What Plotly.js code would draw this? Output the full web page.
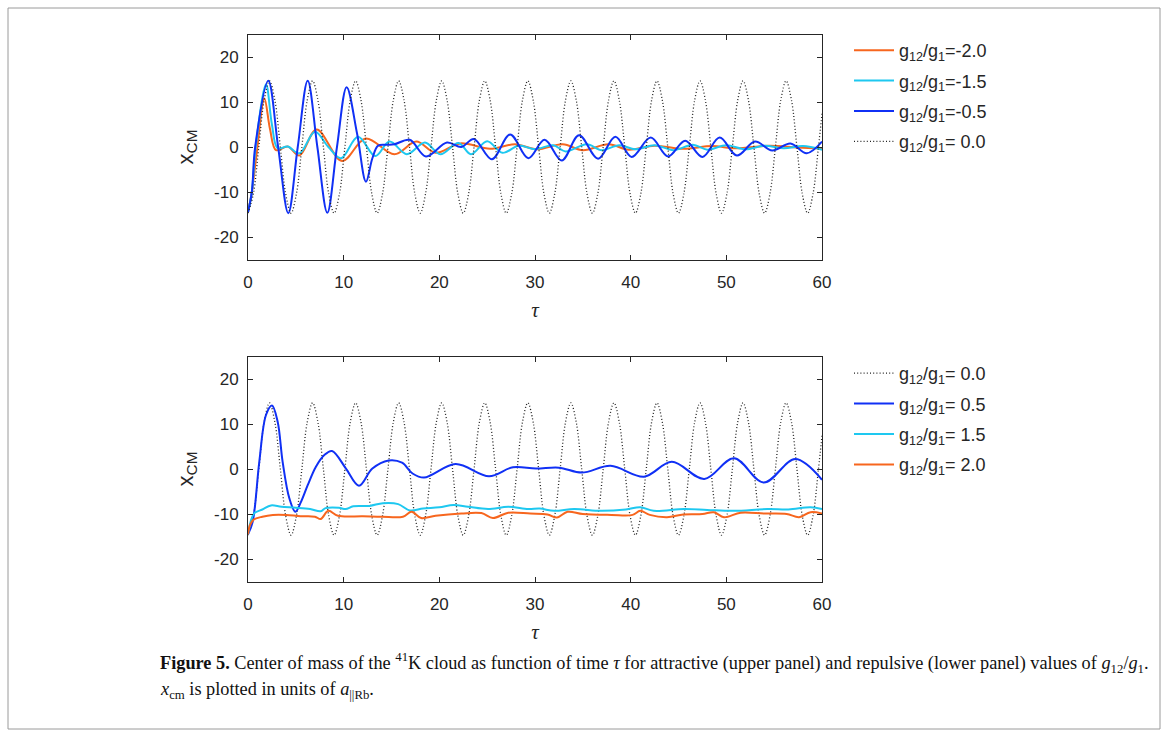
<!DOCTYPE html>
<html>
<head>
<meta charset="utf-8">
<script src="https://cdn.plot.ly/plotly-3.0.1.min.js"></script>
<style>html,body{margin:0;padding:0;background:#fff;}#chart{width:1168px;height:737px;}</style>
</head>
<body>
<div id="chart"></div>
<script>
// ---- g12/g1 = 0.0 (reference, no interaction), shown in both panels ----
const dotT = [0,0.56,1.13,1.69,2.25,2.81,3.38,3.94,
  4.5,5.06,5.63,6.19,6.75,7.31,7.88,8.44,
  9,9.56,10.13,10.69,11.25,11.81,12.38,12.94,
  13.5,14.06,14.63,15.19,15.75,16.31,16.88,17.44,
  18,18.56,19.13,19.69,20.25,20.81,21.38,21.94,
  22.5,23.06,23.63,24.19,24.75,25.31,25.88,26.44,
  27,27.56,28.13,28.69,29.25,29.81,30.38,30.94,
  31.5,32.06,32.63,33.19,33.75,34.31,34.88,35.44,
  36,36.56,37.13,37.69,38.25,38.81,39.38,39.94,
  40.5,41.06,41.63,42.19,42.75,43.31,43.88,44.44,
  45,45.56,46.13,46.69,47.25,47.81,48.38,48.94,
  49.5,50.06,50.63,51.19,51.75,52.31,52.88,53.44,
  54,54.56,55.13,55.69,56.25,56.81,57.38,57.94,
  58.5,59.06,59.63,60];
const dotY = [-14.7,-10.4,0,10.4,14.7,10.4,0,-10.4,
  -14.7,-10.4,0,10.4,14.7,10.4,0,-10.4,
  -14.7,-10.4,0,10.4,14.7,10.4,0,-10.4,
  -14.7,-10.4,0,10.4,14.7,10.4,0,-10.4,
  -14.7,-10.4,0,10.4,14.7,10.4,0,-10.4,
  -14.7,-10.4,0,10.4,14.7,10.4,0,-10.4,
  -14.7,-10.4,0,10.4,14.7,10.4,0,-10.4,
  -14.7,-10.4,0,10.4,14.7,10.4,0,-10.4,
  -14.7,-10.4,0,10.4,14.7,10.4,0,-10.4,
  -14.7,-10.4,0,10.4,14.7,10.4,0,-10.4,
  -14.7,-10.4,0,10.4,14.7,10.4,0,-10.4,
  -14.7,-10.4,0,10.4,14.7,10.4,0,-10.4,
  -14.7,-10.4,0,10.4,14.7,10.4,0,-10.4,
  -14.7,-10.4,0,7.4];

// ---- Upper panel (attractive) ----
const tM20 = [0,0.4,0.9,1.71,2.3,2.93,4.15,5.37,7.18,9.83,12.3,15.3,17.6,19.6,22.2,25.3,27.9,30.2,32.9,35.0,37.7,39.8,42.5,45.5,48.5,51.0,54.5,57.5,60];
const yM20 = [-14.5,-10,-1.5,10.8,4,-0.7,0.1,-1.9,3.9,-3.1,1.9,-1.6,1.2,-1.3,0.8,-0.4,0.6,-0.5,0.6,-0.7,0.6,-0.6,0.3,-0.4,0.2,-0.3,0.3,-0.1,-0.3];

const tM15 = [0,0.4,0.8,1.88,2.5,3.1,4.15,5.37,7.0,8.4,9.72,11.5,13.3,14.8,16.6,18.5,20.1,22.0,23.3,25.0,26.6,28.3,30.0,31.9,33.2,35.4,37.0,38.8,40.5,42.5,44.5,46.5,48.0,50.0,52.0,54.0,56.0,58.0,60];
const yM15 = [-14.5,-10,0,13.9,5,-0.3,0.1,-1.4,3.4,0,-2.5,2.3,-2.0,1.2,-1.6,1.0,-1.6,0.9,-1.6,1.3,-1.3,0.3,-0.5,0.4,-1.0,0.6,-0.7,0.4,-0.5,0.4,-0.7,0.5,-0.6,0.4,-0.5,0.3,-0.3,0.2,-0.6];

const tM05 = [0,0.4,0.75,2.12,3.15,4.21,5.2,6.24,7.25,8.29,9.3,10.31,11.4,12.33,13.0,13.6,14.5,15.3,16.9,18.6,20.8,22.3,23.6,25.5,27.4,29.3,31.0,32.8,34.6,36.6,38.4,40.1,42.1,43.9,45.7,47.5,49.3,51.1,53.0,54.8,56.7,58.4,60];
const yM05 = [-14.5,-10,0,14.7,0,-14.7,0,14.7,0,-14.6,0,13.3,3,-7.7,-2.5,0.3,0.5,0.6,1.6,-2.1,1.0,0.0,1.8,-2.7,2.8,-2.5,1.6,-3.0,2.6,-2.6,2.3,-2.2,2.1,-2.1,1.4,-2.2,2.1,-1.9,1.2,-0.8,0.8,-1.4,1.2];

// ---- Lower panel (repulsive) ----
const tP05 = [0,0.49,1.18,1.88,2.51,3.1,3.62,4.32,4.95,5.54,6.24,7.1,7.98,8.78,10.24,11.6,13.0,14.7,16.1,17.2,18.4,21.7,25.2,27.7,30.1,32.5,34.9,37.9,41.4,44.3,47.7,50.8,53.9,57.2,60];
const yP05 = [-14.5,-11.7,1.6,12,14.1,10.5,1.6,-6.5,-9.5,-7.3,-3.6,0.5,3.1,4.0,0.1,-3.7,0.1,1.9,1.4,-1.0,-1.9,1.1,-1.6,0.4,0.1,0.3,-0.8,0.7,-1.7,1.6,-2.2,2.4,-3.0,2.2,-2.4];

const tP15 = [0,0.3,0.66,1.5,2.4,3.5,5.0,6.5,7.6,8.1,9.5,10.2,11.0,12.7,14.1,15.7,16.9,18.3,20.0,21.5,23.0,25.1,27.2,29.3,30.5,32.0,34.1,36.9,39.5,41.0,42.4,45.6,48.0,50.8,54.3,56.5,58.8,60];
const yP15 = [-14.5,-11.5,-9.8,-9.0,-8.1,-8.4,-8.6,-8.9,-9.4,-8.7,-8.6,-8.9,-8.3,-8.2,-7.6,-7.8,-9.2,-8.8,-8.5,-8.0,-8.4,-8.9,-8.4,-8.9,-8.8,-9.3,-8.9,-9.3,-9.0,-8.5,-9.3,-8.9,-9.1,-9.3,-8.9,-9.0,-8.5,-8.9];

const tP20 = [0,0.2,0.56,1.5,2.6,4.0,5.5,7.0,7.6,8.4,9.4,12.0,14.0,16.2,17.1,18.1,19.6,22.3,24.4,25.6,27.2,29.5,31.3,32.3,33.4,35.0,38.0,40.2,41.0,42.0,43.8,45.5,47.5,48.7,49.75,51.5,54.0,56.3,57.6,58.8,60];
const yP20 = [-14.5,-12.5,-11.3,-10.6,-10.2,-10.2,-10.5,-10.6,-11.1,-9.3,-10.4,-10.5,-10.6,-10.6,-9.5,-10.9,-10.4,-9.9,-9.8,-10.9,-9.7,-9.9,-10.1,-10.8,-9.5,-10.0,-10.2,-10.2,-9.3,-10.2,-10.7,-10.1,-10.0,-9.6,-10.7,-9.7,-9.9,-10.0,-10.7,-9.6,-9.9];

const labelsTop = ['g<sub>12</sub>/g<sub>1</sub>=-2.0','g<sub>12</sub>/g<sub>1</sub>=-1.5','g<sub>12</sub>/g<sub>1</sub>=-0.5','g<sub>12</sub>/g<sub>1</sub>= 0.0'];
const labelsBot = ['g<sub>12</sub>/g<sub>1</sub>= 0.0','g<sub>12</sub>/g<sub>1</sub>= 0.5','g<sub>12</sub>/g<sub>1</sub>= 1.5','g<sub>12</sub>/g<sub>1</sub>= 2.0'];
const xTicks = [0,10,20,30,40,50,60];
const yTicks = [-20,-10,0,10,20];
const yTickText = ['-20','-10','0','10','20'];

const ORANGE = '#F7661E', CYAN = '#1EC8F0', BLUE = '#1030F5', BLACK = '#222222';
const solid = c => ({color: c, width: 2, shape: 'spline', smoothing: 1});
const dotted = {color: BLACK, width: 1.3, dash: '1px,2.2px', shape: 'spline', smoothing: 1};

const traces = [
  {x: tM20, y: yM20, name: labelsTop[0], line: solid(ORANGE), xaxis: 'x', yaxis: 'y', legend: 'legend', legendgroup: 'a', mode: 'lines'},
  {x: tM15, y: yM15, name: labelsTop[1], line: solid(CYAN), xaxis: 'x', yaxis: 'y', legend: 'legend', legendgroup: 'b', mode: 'lines'},
  {x: tM05, y: yM05, name: labelsTop[2], line: solid(BLUE), xaxis: 'x', yaxis: 'y', legend: 'legend', legendgroup: 'c', mode: 'lines'},
  {x: dotT, y: dotY, name: labelsTop[3], line: dotted, xaxis: 'x', yaxis: 'y', legend: 'legend', legendgroup: 'd', mode: 'lines'},
  {x: dotT, y: dotY, name: labelsBot[0], line: dotted, xaxis: 'x2', yaxis: 'y2', legend: 'legend2', legendgroup: 'e', mode: 'lines'},
  {x: tP05, y: yP05, name: labelsBot[1], line: solid(BLUE), xaxis: 'x2', yaxis: 'y2', legend: 'legend2', legendgroup: 'f', mode: 'lines'},
  {x: tP15, y: yP15, name: labelsBot[2], line: solid(CYAN), xaxis: 'x2', yaxis: 'y2', legend: 'legend2', legendgroup: 'g', mode: 'lines'},
  {x: tP20, y: yP20, name: labelsBot[3], line: solid(ORANGE), xaxis: 'x2', yaxis: 'y2', legend: 'legend2', legendgroup: 'h', mode: 'lines'}
];

const W = 1168, H = 737;
const tickFont = {family: 'Liberation Sans, Arial, sans-serif', size: 17, color: '#262626'};
function xAxis(anchor) {
  return {
    domain: [248/W, 822/W], range: [0, 60], anchor: anchor,
    tickvals: xTicks, ticks: 'inside', ticklen: 5, tickcolor: '#262626',
    showline: true, linecolor: '#262626', linewidth: 1, mirror: 'ticks',
    showgrid: false, zeroline: false, tickfont: tickFont, ticklabelstandoff: 7,
    title: {text: '<i>τ</i>', font: {family: 'Liberation Serif, Times New Roman, serif', size: 21, color: '#262626'}, standoff: 11}
  };
}
function yAxis(anchor, top, bottom) {
  return {
    domain: [(H-bottom)/H, (H-top)/H], range: [-25, 25], anchor: anchor,
    tickvals: yTicks, ticktext: yTickText, ticks: 'inside', ticklen: 5, tickcolor: '#262626',
    showline: true, linecolor: '#262626', linewidth: 1, mirror: 'ticks',
    showgrid: false, zeroline: false, tickfont: tickFont, ticklabelstandoff: 5,
    title: {text: 'x<sub>CM</sub>', font: {family: 'Liberation Sans, Arial, sans-serif', size: 22, color: '#262626'}, standoff: 14}
  };
}
const xa = xAxis('y'); const ya = yAxis('x', 34.5, 259.5);
const xa2 = xAxis('y2'); const ya2 = yAxis('x2', 356.5, 581.5);

const legFont = {family: 'Liberation Sans, Arial, sans-serif', size: 18, color: '#262626'};
const legBase = {xanchor: 'left', yanchor: 'top', font: legFont, bgcolor: 'rgba(0,0,0,0)', tracegroupgap: 4, itemwidth: 40, traceorder: 'grouped'};
const layout = {
  width: W, height: H,
  margin: {l: 0, r: 0, t: 0, b: 0},
  paper_bgcolor: '#ffffff', plot_bgcolor: '#ffffff',
  showlegend: true,
  xaxis: xa, yaxis: ya, xaxis2: xa2, yaxis2: ya2,
  legend: Object.assign({x: 849/W, y: (H-32)/H}, legBase),
  legend2: Object.assign({x: 849/W, y: (H-355)/H}, legBase),
  shapes: [
    {type: 'rect', xref: 'paper', yref: 'paper', x0: 8/W, x1: 1160/W, y0: (H-729)/H, y1: (H-8)/H, line: {color: '#9a9a9a', width: 1}}
  ],
  annotations: [
    {xref: 'paper', yref: 'paper', x: 158/W, y: (H-663)/H, xanchor: 'left', yanchor: 'middle', showarrow: false,
     font: {family: 'Liberation Serif, Times New Roman, serif', size: 18.3, color: '#111'},
     text: '<b>Figure 5.</b> Center of mass of the <sup>41</sup>K cloud as function of time <i>τ</i> for attractive (upper panel) and repulsive (lower panel) values of <i>g</i><sub>12</sub>/<i>g</i><sub>1</sub>.'},
    {xref: 'paper', yref: 'paper', x: 158/W, y: (H-690)/H, xanchor: 'left', yanchor: 'middle', showarrow: false,
     font: {family: 'Liberation Serif, Times New Roman, serif', size: 18.3, color: '#111'},
     text: '<i>x</i><sub>cm</sub> is plotted in units of <i>a</i><sub>||Rb</sub>.'}
  ]
};
Plotly.newPlot('chart', traces, layout, {displayModeBar: false, staticPlot: true});
</script>
</body>
</html>
